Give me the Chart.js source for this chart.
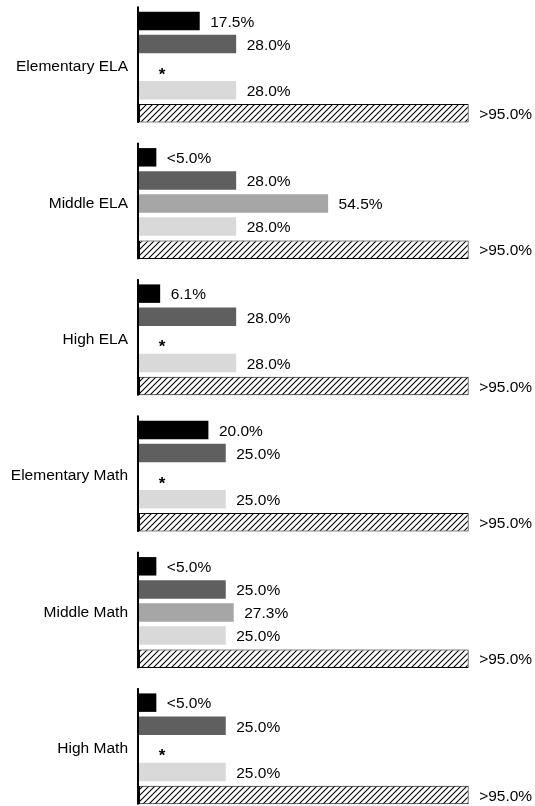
<!DOCTYPE html>
<html>
<head>
<meta charset="utf-8">
<script src="https://cdn.jsdelivr.net/npm/chart.js@4"></script>
<style>
  html, body { margin: 0; padding: 0; overflow: hidden; background: #fff; }
  #wrap { position: absolute; left: 0; top: -1px; width: 535px; height: 818px; }
</style>
</head>
<body>
<div id="wrap"><canvas id="myChart"></canvas></div>
<script>
/* Chart data */
const categories = ['Elementary ELA', 'Middle ELA', 'High ELA', 'Elementary Math', 'Middle Math', 'High Math'];

const series1 = [17.5, 5, 6.1, 20, 5, 5];
const series2 = [28, 28, 28, 25, 25, 25];
const series3 = [null, 54.5, null, null, 27.3, null];
const series4 = [28, 28, 28, 25, 25, 25];
const series5 = [95, 95, 95, 95, 95, 95];

const labels1 = ['17.5%', '<5.0%', '6.1%', '20.0%', '<5.0%', '<5.0%'];
const labels2 = ['28.0%', '28.0%', '28.0%', '25.0%', '25.0%', '25.0%'];
const labels3 = ['*', '54.5%', '*', '*', '27.3%', '*'];
const labels4 = ['28.0%', '28.0%', '28.0%', '25.0%', '25.0%', '25.0%'];
const labels5 = ['>95.0%', '>95.0%', '>95.0%', '>95.0%', '>95.0%', '>95.0%'];

const valueLabels = [labels1, labels2, labels3, labels4, labels5];
const FONT = '"Liberation Sans", Arial, sans-serif';

/* diagonal hatch fill for the last series */
function makeHatch() {
  const c = document.createElement('canvas');
  c.width = 6; c.height = 6;
  const g = c.getContext('2d');
  g.fillStyle = '#fff';
  g.fillRect(0, 0, 6, 6);
  g.strokeStyle = '#000';
  g.lineWidth = 1.1;
  g.beginPath();
  g.moveTo(0, 6); g.lineTo(6, 0);
  g.moveTo(-1, 1); g.lineTo(1, -1);
  g.moveTo(5, 7); g.lineTo(7, 5);
  g.stroke();
  return g.createPattern(c, 'repeat');
}

/* value labels, asterisks and the broken axis line */
const barLabels = {
  id: 'barLabels',
  afterDatasetsDraw(chart) {
    const ctx = chart.ctx;
    const xs = chart.scales.x;
    const ys = chart.scales.y;
    const x0 = xs.getPixelForValue(0);
    ctx.save();

    const band = ys.getPixelForValue(1) - ys.getPixelForValue(0);
    const half = band * 0.847 / 2;
    ctx.fillStyle = '#000';
    categories.forEach((c, j) => {
      const yc = ys.getPixelForValue(j);
      ctx.fillRect(x0 - 2, yc - half - 3, 2, 2 * half + 1);
    });

    chart.data.datasets.forEach((ds, i) => {
      const meta = chart.getDatasetMeta(i);
      meta.data.forEach((bar, j) => {
        const txt = valueLabels[i][j];
        if (ds.data[j] === null) {
          ctx.font = 'bold 17px ' + FONT;
          ctx.textAlign = 'center';
          ctx.textBaseline = 'alphabetic';
          ctx.fillText(txt, x0 + 23, bar.y + 12.5);
        } else {
          ctx.font = '15.5px ' + FONT;
          ctx.textAlign = 'left';
          ctx.textBaseline = 'middle';
          ctx.fillText(txt, bar.x + 10.5, bar.y + 1.5);
        }
      });
    });
    ctx.restore();
  }
};

function initChart() {
  const ctx = document.getElementById('myChart');
  const common = { categoryPercentage: 0.847, barPercentage: 0.8, borderWidth: 0 };
  new Chart(ctx, {
    type: 'bar',
    data: {
      labels: categories,
      datasets: [
        { ...common, data: series1, backgroundColor: '#000000' },
        { ...common, data: series2, backgroundColor: '#5f5f5f' },
        { ...common, data: series3, backgroundColor: '#a6a6a6' },
        { ...common, data: series4, backgroundColor: '#d9d9d9' },
        { ...common, data: series5, backgroundColor: makeHatch(), borderColor: '#000', borderWidth: 1, borderSkipped: false }
      ]
    },
    options: {
      indexAxis: 'y',
      responsive: true,
      maintainAspectRatio: false,
      animation: false,
      layout: { autoPadding: false, padding: { left: 0, right: 49, top: 0, bottom: 0 } },
      plugins: { legend: { display: false }, tooltip: { enabled: false } },
      scales: {
        x: { min: 0, max: 100, display: false },
        y: {
          grid: { display: false, drawTicks: false },
          border: { display: false },
          ticks: { color: '#000', padding: 11, font: { family: FONT, size: 15.5 } },
          afterFit(scale) {
            scale.width = 139;
            scale.paddingTop = 0;
            scale.paddingBottom = 0;
          }
        }
      }
    },
    plugins: [barLabels]
  });
}

initChart();
</script>
</body>
</html>
